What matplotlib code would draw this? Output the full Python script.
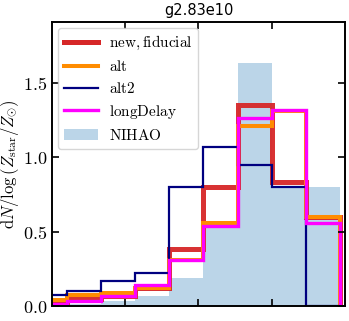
import numpy as np
import matplotlib
matplotlib.use("Agg")
import matplotlib.pyplot as plt
from matplotlib.lines import Line2D
from matplotlib.patches import Patch

plt.rcParams["mathtext.fontset"] = "cm"

# bin edges (log Z bins, arbitrary x units, axis spans 0..4)
edges = [-0.262, 0.204, 0.670, 1.136, 1.602, 2.068, 2.534, 3.0, 3.466, 3.932]

nihao = [0.0, 0.012, 0.035, 0.065, 0.19, 0.53, 1.63, 0.80, 0.80]
fiducial = [0.025, 0.045, 0.065, 0.12, 0.38, 0.80, 1.35, 0.83, 0.60]
alt = [0.04, 0.075, 0.085, 0.12, 0.31, 0.56, 1.21, 1.31, 0.60]
alt2 = [0.075, 0.097, 0.17, 0.22, 0.80, 1.07, 0.945, 0.80, 0.0]
long_delay = [0.015, 0.03, 0.065, 0.14, 0.31, 0.535, 1.265, 1.315, 0.56]

fig = plt.figure(figsize=(3.49, 3.21), dpi=100)
ax = fig.add_axes([0.149, 0.047, 0.8395, 0.885])

widths = np.diff(edges)
ax.bar(edges[:-1], nihao, width=widths, align="edge", color="tab:blue",
       alpha=0.3, linewidth=0)

ax.stairs(fiducial, edges, baseline=0, color="#d62728", lw=3.6, alpha=0.95)
ax.stairs(alt, edges, baseline=0, color="darkorange", lw=2.9)
ax.stairs(alt2, edges, baseline=0, color="navy", lw=1.6)
ax.stairs(long_delay, edges, baseline=0, color="magenta", lw=2.4)

ax.set_xlim(0, 4)
ax.set_ylim(0, 1.91)
ax.set_xticks([1, 2, 3])
ax.set_xticklabels([])
ax.set_yticks([0, 0.5, 1.0, 1.5])
ax.set_yticklabels(["$0.0$", "$0.5$", "$1.0$", "$1.5$"])
ax.tick_params(direction="in", top=True, right=True, length=5, width=1.2,
               labelsize=13)
for s in ax.spines.values():
    s.set_linewidth(1.4)

ax.set_ylabel(r"$\mathrm{d}N/\log\left(Z_{\rm star}/Z_{\odot}\right)$",
              fontsize=12, labelpad=1)
ax.set_title("g2.83e10", fontsize=10.5, pad=5)

handles = [
    Line2D([], [], color="#d62728", lw=3.6),
    Line2D([], [], color="darkorange", lw=2.9),
    Line2D([], [], color="navy", lw=1.6),
    Line2D([], [], color="magenta", lw=2.4),
    Patch(facecolor="tab:blue", alpha=0.3, linewidth=0),
]
labels = [r"$\mathrm{new,fiducial}$", r"$\mathrm{alt}$", r"$\mathrm{alt2}$",
          r"$\mathrm{longDelay}$", r"$\mathrm{NIHAO}$"]
ax.legend(handles, labels, loc="upper left", fontsize=11, handlelength=2.2,
          labelspacing=0.45, borderaxespad=0.4, handletextpad=0.7,
          framealpha=0.8)

fig.savefig("out.png", dpi=100)
